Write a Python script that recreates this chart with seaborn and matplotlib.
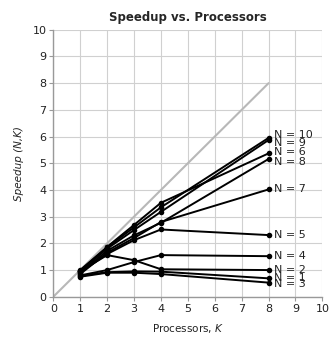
import numpy as np
import pandas as pd
import seaborn as sns
import matplotlib
matplotlib.use('Agg')
import matplotlib.pyplot as plt

#### Data ####
processors = [1, 2, 3, 4, 8]
speedup_n1 = [0.78, 0.92, 0.95, 0.94, 0.69]
speedup_n2 = [0.95, 1.56, 1.37, 1.03, 1.00]
speedup_n3 = [0.75, 0.90, 0.90, 0.85, 0.53]
speedup_n4 = [0.80, 1.00, 1.30, 1.56, 1.52]
speedup_n5 = [0.92, 1.60, 2.12, 2.52, 2.31]
speedup_n6 = [0.98, 1.87, 2.69, 3.52, 5.37]
speedup_n7 = [0.85, 1.65, 2.20, 2.80, 4.02]
speedup_n8 = [0.90, 1.72, 2.30, 2.77, 5.16]
speedup_n9 = [0.95, 1.80, 2.50, 3.18, 5.87]
speedup_n10 = [1.00, 1.85, 2.60, 3.35, 5.95]
series_names = ['N = 1', 'N = 2', 'N = 3', 'N = 4', 'N = 5',
                'N = 6', 'N = 7', 'N = 8', 'N = 9', 'N = 10']
ideal_x = [0, 8]
ideal_y = [0, 8]
axis_ticks = list(range(0, 11))

all_series = [speedup_n1, speedup_n2, speedup_n3, speedup_n4, speedup_n5,
              speedup_n6, speedup_n7, speedup_n8, speedup_n9, speedup_n10]

# long-form table for seaborn
rows = []
for name, values in zip(series_names, all_series):
    for k, s in zip(processors, values):
        rows.append({'N': name, 'K': k, 'speedup': s})
df = pd.DataFrame(rows)

sns.set_style('white')
plt.rcParams['font.family'] = ['DejaVu Sans']
plt.rcParams['mathtext.fontset'] = 'custom'
plt.rcParams['mathtext.it'] = 'DejaVu Sans:italic'

fig = plt.figure(figsize=(3.30, 3.38), dpi=100)
ax = fig.add_axes([0.1615, 0.122, 0.8155, 0.79])

# ideal speedup
ax.plot(ideal_x, ideal_y, color='#b8b8b8', lw=1.5, zorder=2)

sns.lineplot(data=df, x='K', y='speedup', units='N', estimator=None, color='black',
             marker='o', markersize=4, markeredgewidth=0, lw=1.4, ax=ax, zorder=3)

# labels at the last point
label_offsets = {'N = 10': 2, 'N = 9': -2, 'N = 6': 1, 'N = 8': -2, 'N = 1': 0, 'N = 3': -1}
for name, values in zip(series_names, all_series):
    ax.annotate(name, (processors[-1], values[-1]), textcoords='offset points',
                xytext=(4, label_offsets.get(name, 0)), va='center', ha='left',
                fontsize=8, color='#222222', zorder=4)

ax.set_xlim(0, 10)
ax.set_ylim(0, 10)
ax.set_xticks(axis_ticks)
ax.set_yticks(axis_ticks)
ax.grid(True, color='#d0d0d0', lw=0.8)
ax.set_axisbelow(True)
for side in ['top', 'right']:
    ax.spines[side].set_visible(False)
for side in ['left', 'bottom']:
    ax.spines[side].set_color('#999999')
    ax.spines[side].set_linewidth(1.0)
ax.tick_params(axis='both', which='major', length=3, width=0.8, color='#999999',
               labelsize=8, labelcolor='#222222', direction='out', pad=2)
ax.tick_params(left=True, bottom=True)

ax.set_title('Speedup vs. Processors', fontsize=8.5, fontweight='bold', pad=6)
ax.set_xlabel('Processors, $K$', fontsize=7.5, color='#222222', labelpad=6)
ax.set_ylabel('Speedup (N,K)', fontsize=7.5, fontstyle='italic', color='#222222', labelpad=6)
if ax.get_legend() is not None:
    ax.get_legend().remove()

fig.savefig('out.png', dpi=100)
